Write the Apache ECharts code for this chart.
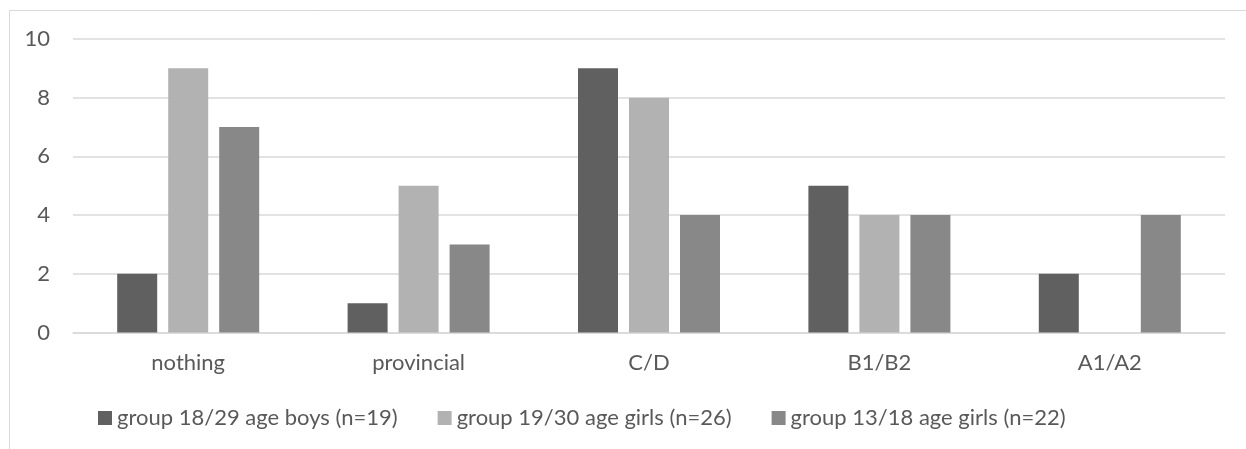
<!DOCTYPE html>
<html>
<head>
<meta charset="utf-8">
<script src="https://cdn.jsdelivr.net/npm/echarts@6/dist/echarts.min.js"></script>
<style>
html,body{margin:0;padding:0;background:#fff;}
#c{width:1246px;height:449px;}
</style>
</head>
<body>
<div id="c"></div>
<script>
const categories = ['nothing', 'provincial', 'C/D', 'B1/B2', 'A1/A2'];
const seriesNames = ['group 18/29 age boys (n=19)', 'group 19/30 age girls (n=26)', 'group 13/18 age girls (n=22)'];
const boys1829 = [2, 1, 9, 5, 2];
const girls1930 = [9, 5, 8, 4, 0];
const girls1318 = [7, 3, 4, 4, 4];
const colors = ['#606060', '#b2b2b2', '#888888'];

const FONT = 'Lato';
const TXT = '#595959';
const chart = echarts.init(document.getElementById('c'), null, {renderer: 'canvas'});
const dataSets = [boys1829, girls1930, girls1318];
chart.setOption({
  animation: false,
  backgroundColor: '#ffffff',
  textStyle: {fontFamily: FONT},
  graphic: [{
    type: 'rect', silent: true, z: -1,
    shape: {x: 9.5, y: 10.5, width: 1400, height: 600},
    style: {fill: 'none', stroke: '#d9d9d9', lineWidth: 1}
  }],
  grid: {left: 73, right: 21, top: 39, bottom: 116.5, containLabel: false},
  legend: {
    left: 98, top: 407, padding: 0,
    itemWidth: 14, itemHeight: 14, itemGap: 40,
    icon: 'rect',
    textStyle: {fontFamily: FONT, fontSize: 22, color: TXT},
    data: seriesNames
  },
  xAxis: {
    type: 'category', data: categories,
    axisLine: {show: true, lineStyle: {color: '#d9d9d9', width: 1.5}},
    axisTick: {show: false},
    axisLabel: {fontFamily: FONT, fontSize: 22, color: TXT, margin: 19}
  },
  yAxis: {
    type: 'value', min: 0, max: 10, interval: 2,
    axisLine: {show: false}, axisTick: {show: false},
    splitLine: {lineStyle: {color: '#d9d9d9', width: 1.5}},
    axisLabel: {fontFamily: FONT, fontSize: 22, color: TXT, margin: 23}
  },
  series: seriesNames.map((n, i) => ({
    name: n, type: 'bar', data: dataSets[i],
    barWidth: 40, barGap: '27.5%',
    itemStyle: {color: colors[i]}
  }))
});
</script>
</body>
</html>
